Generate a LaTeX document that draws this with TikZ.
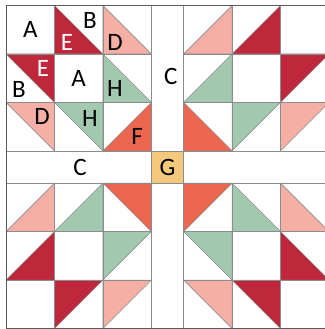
\documentclass[tikz,border=0pt]{standalone}
\usepackage{fontspec}
\setmainfont{Carlito}
\definecolor{colE}{HTML}{BF283B}
\definecolor{colD}{HTML}{F5AFA4}
\definecolor{colH}{HTML}{A2C8B0}
\definecolor{colF}{HTML}{EC6650}
\definecolor{colG}{HTML}{F4C97B}

\begin{document}
\begin{tikzpicture}[x=16.15pt, y=16.15pt, line join=round,
  seam/.style={draw=black!45, line width=0.6pt},
  edge/.style={draw=black!65, line width=0.9pt},
  lbl/.style={font=\fontsize{25}{25}\selectfont, inner sep=0pt},
  lblw/.style={lbl, text=white}]
  \useasboundingbox (-0.372,-0.03) rectangle (19.75,20.34);
  \fill[white] (0,0) rectangle (20,20);
  % the four patches, mirrored round the centre
  \foreach \sx/\sy/\dx/\dy in {1/1/0/11, -1/1/20/11, 1/-1/0/9, -1/-1/20/9} {
    \begin{scope}[shift={(\dx,\dy)}, xscale=\sx, yscale=\sy]
      \filldraw[seam, fill=colE] (3,9) -- (3,6) -- (6,6) -- cycle;
      \filldraw[seam, fill=colD] (6,9) -- (6,6) -- (9,6) -- cycle;
      \filldraw[seam, fill=colE] (0,6) -- (3,6) -- (3,3) -- cycle;
      \filldraw[seam, fill=colH] (6,6) -- (6,3) -- (9,3) -- cycle;
      \filldraw[seam, fill=colD] (0,3) -- (3,3) -- (3,0) -- cycle;
      \filldraw[seam, fill=colH] (3,3) -- (6,3) -- (6,0) -- cycle;
      \filldraw[seam, fill=colF] (9,3) -- (9,0) -- (6,0) -- cycle;
      \foreach \k in {0,3,6,9} {
        \draw[seam] (\k,0) -- (\k,9);
        \draw[seam] (0,\k) -- (9,\k);
      }
    \end{scope}
  }
  % sashing and corner stone
  \draw[seam] (0,9) -- (20,9) (0,11) -- (20,11);
  \draw[seam] (9,0) -- (9,20) (11,0) -- (11,20);
  \filldraw[seam, fill=colG] (9,9) rectangle (11,11);
  \draw[edge] (0,0) rectangle (20,20);
  % letters
  \node[lbl]  (a1) at (1.5,18.5)  {A};
  \node[lbl]  (b1) at (5.2,19.1)  {B};
  \node[lblw] (e1) at (3.78,17.74) {E};
  \node[lbl]  (d1) at (6.75,17.74) {D};
  \node[lblw] (e2) at (2.29,16.13) {E};
  \node[lbl]  (b2) at (0.8,14.77) {B};
  \node[lbl]  (a2) at (4.5,15.5)  {A};
  \node[lbl]  (h1) at (6.75,14.89) {H};
  \node[lbl]  (d2) at (2.23,13.1) {D};
  \node[lbl]  (h2) at (5.2,13.03) {H};
  \node[lbl]  (f1) at (8.11,11.86) {F};
  \node[lbl]  (c1) at (10.2,15.63) {C};
  \node[lbl]  (c2) at (4.58,9.97)  {C};
  \node[lbl]  (g1) at (10,10)     {G};
\end{tikzpicture}
\end{document}
